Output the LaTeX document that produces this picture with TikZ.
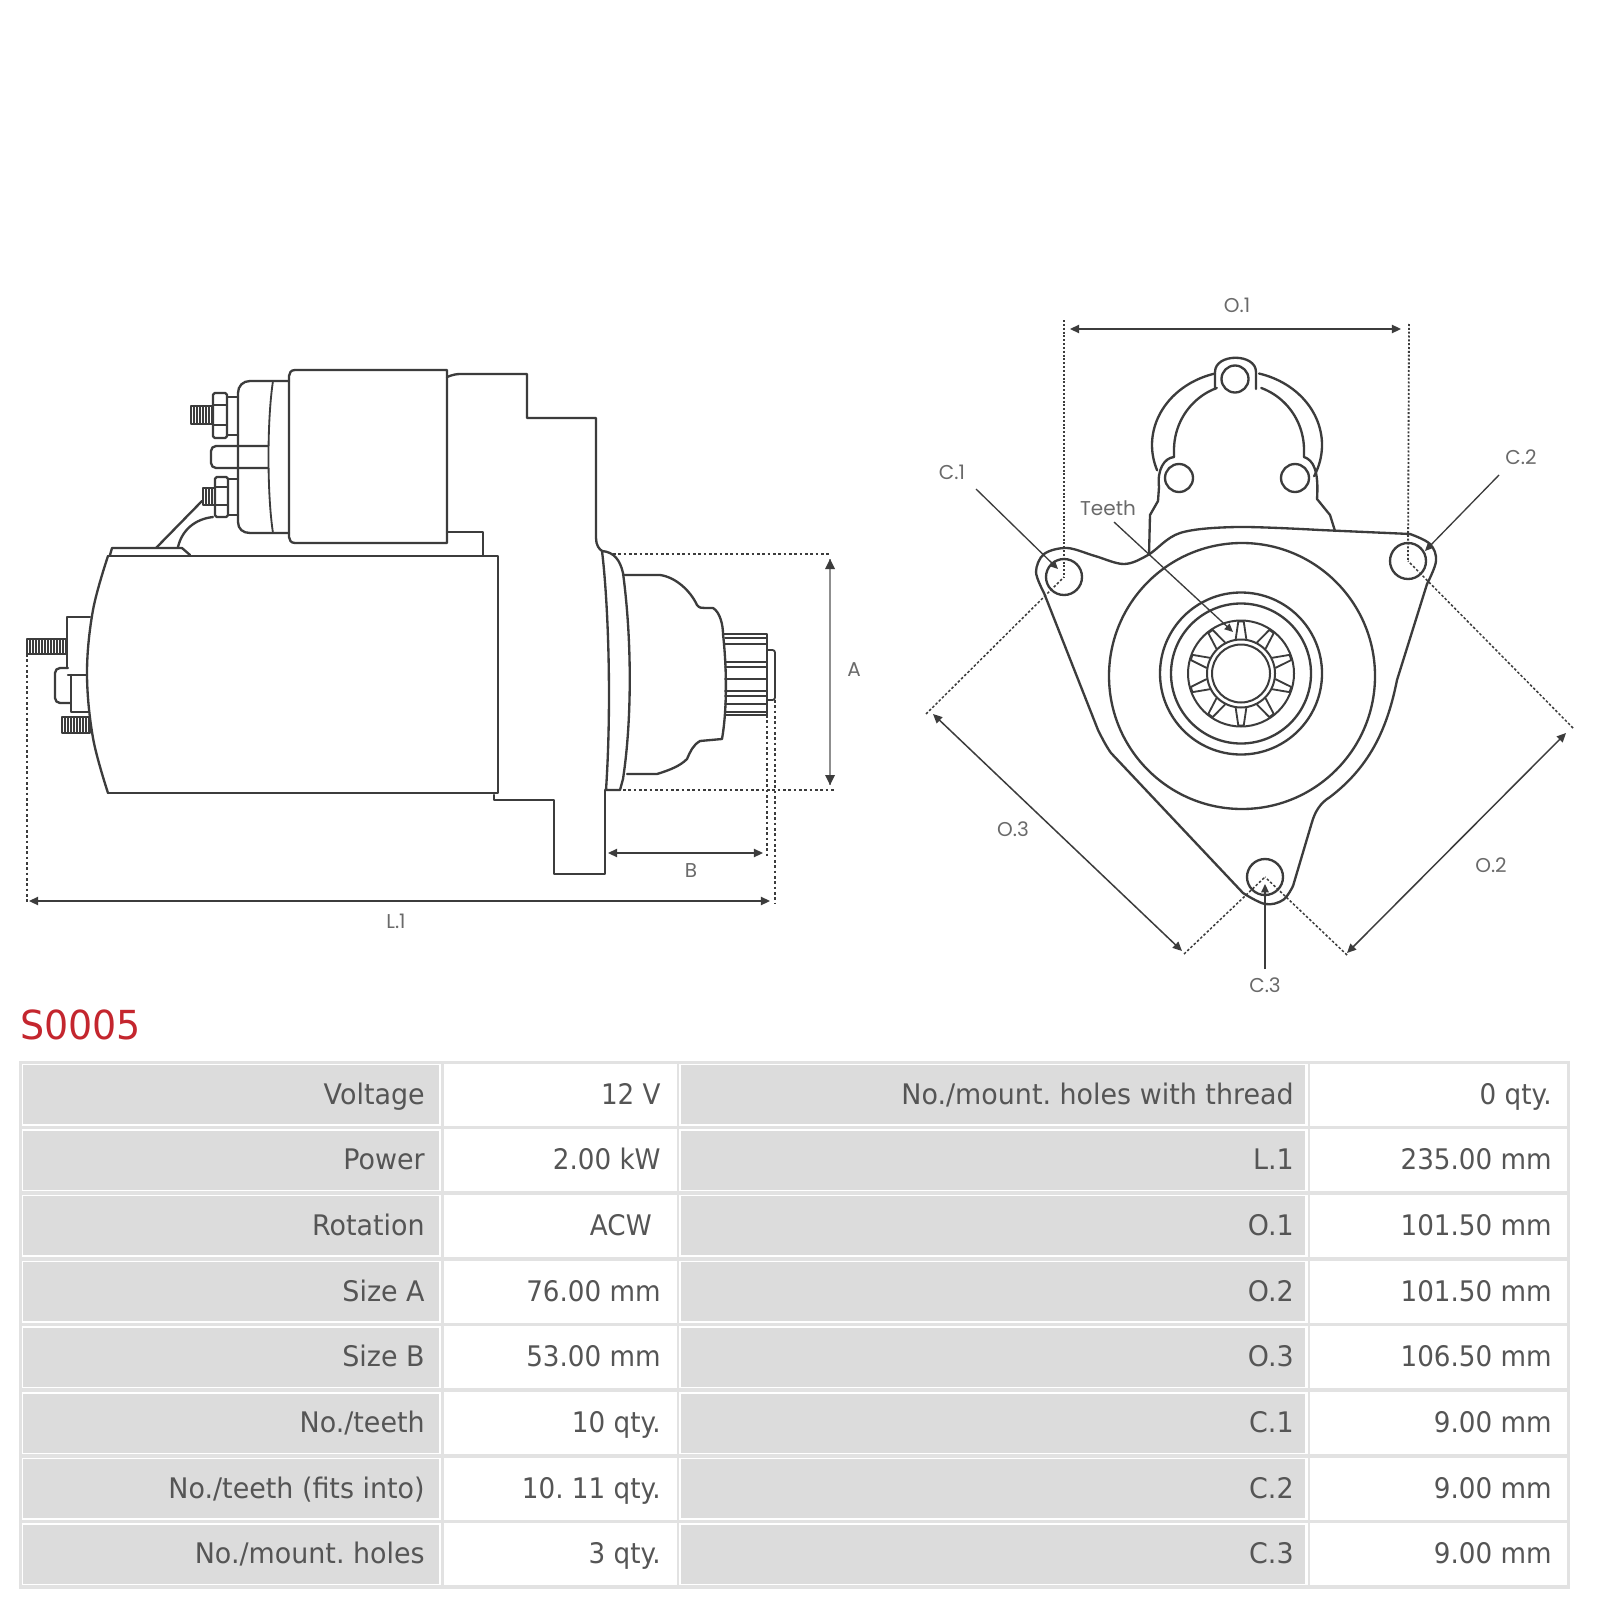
\documentclass[tikz,border=0pt]{standalone}
\usepackage{fontspec}
\usetikzlibrary{arrows.meta}
\newfontfamily\tablefont[FakeStretch=0.95]{DejaVu Sans}
\newfontfamily\valuefont[FakeStretch=0.925]{DejaVu Sans}
\newfontfamily\dimfont{Poppins}
\frenchspacing
\definecolor{ink}{HTML}{3C3C3C}
\definecolor{dimc}{HTML}{6A6A6A}
\definecolor{txt}{HTML}{555555}
\definecolor{cellg}{HTML}{DCDCDC}
\definecolor{frameg}{HTML}{E2E2E2}
\definecolor{red1}{HTML}{C4262E}
\tikzset{
  part/.style={draw=ink,line width=1.4pt,line join=round,line cap=round},
  thin part/.style={draw=ink,line width=1.1pt,line join=round,line cap=round},
  dotline/.style={draw=ink,line width=1.1pt,dash pattern=on 1.6pt off 1.6pt},
  dotvert/.style={draw=ink,line width=1.1pt,dash pattern=on 1.2pt off 1.1pt},
  dotfine/.style={draw=ink,line width=0.9pt,dash pattern=on 1.5pt off 1.2pt},
  dimarrow/.style={draw=ink,line width=0.9pt,{Triangle[length=5.5pt,width=5pt]}-{Triangle[length=5.5pt,width=5pt]}},
  leader/.style={draw=ink,line width=0.8pt,-{Triangle[length=5pt,width=4.5pt]}},
  dimlabel/.style={font=\dimfont\fontsize{12}{12}\selectfont,text=dimc,inner sep=0pt},
  celltext/.style={font=\tablefont\fontsize{17}{17}\selectfont,text=txt,inner sep=0pt,anchor=base east},
  valuetext/.style={font=\valuefont\fontsize{17}{17}\selectfont,text=txt,inner sep=0pt,anchor=base east},
}
\newcommand{\thread}[4]{% x1 y1 x2 y2
  \draw[part,line width=1pt] (#1,#2) rectangle (#3,#4);
  \pgfmathsetmacro{\xs}{#1+3}
  \pgfmathsetmacro{\xn}{#1+6}
  \foreach \tx in {\xs,\xn,...,#3} \draw[ink,line width=1pt] (\tx,#2) -- (\tx,#4);
}
\begin{document}
\begin{tikzpicture}[x=0.6pt,y=-0.6pt]
\useasboundingbox (0,0) rectangle (1600,1600);
\fill[white] (0,0) rectangle (1600,1600);

% ---------- side view ----------
% solenoid
\draw[part] (289,381) -- (250,381) .. controls (243,381) and (238,386) .. (238,393) -- (238,522)
  .. controls (238,529) and (243,533) .. (250,533) -- (289,533);
\draw[part,line width=1.1pt] (273,381) .. controls (267,420) and (267,494) .. (273,533);
\draw[part] (295,370) -- (447,370) -- (447,543) -- (295,543)
  .. controls (291,543) and (289,540) .. (289,537) -- (289,376) .. controls (289,373) and (291,370) .. (295,370);
% upper terminal
\draw[part] (238,397) -- (227,397) -- (227,435) -- (238,435);
\draw[part,rounded corners=1pt] (213,393) rectangle (227,438);
\draw[thin part] (213,405) -- (227,405) (213,425) -- (227,425);
\thread{191}{406}{213}{424}
% middle bar
\draw[part,rounded corners=3pt] (268,446) -- (211,446) -- (211,468) -- (268,468);
% lower terminal
\draw[part] (238,479) -- (228,479) -- (228,515) -- (238,515);
\draw[part,rounded corners=1pt] (215,477) rectangle (228,517);
\draw[thin part] (215,487) -- (228,487) (215,505) -- (228,505);
\thread{203}{488}{215}{505}
% wire
\draw[part] (202,501) -- (156,548);
\draw[part] (213,517) .. controls (195,519) and (182,530) .. (178,547);
\draw[part] (110,555) -- (112,548) -- (182,548) -- (190,555);
% spacer under the solenoid
\draw[part] (447,532) -- (483,532) -- (483,555);
% motor
\draw[part] (108,556) -- (498,556) -- (498,793) -- (108,793);
\draw[part] plot[smooth,tension=.6] coordinates {(108,556) (93,610) (87,673) (93,738) (108,793)};
% rear plate
\draw[part] (90,617) -- (67,617) -- (67,668);
\draw[part] (68,675) -- (87,675);
\draw[part] (71,675) -- (71,712) -- (88,712);
\draw[part,rounded corners=3pt] (68,668) -- (55,668) -- (55,703) -- (70,703);
\thread{27}{639}{67}{654}
\thread{62}{717}{90}{733}
% drive housing
\draw[part] (447,377) .. controls (452,375) and (456,374) .. (460,374) -- (527,374) -- (527,418) -- (596,418)
  -- (596,538) .. controls (596,545) and (599,549) .. (602,551);
\draw[part] (494,795) -- (494,800) -- (554,800) -- (554,874) -- (605,874) -- (605,790);
% flange
\draw[part] (602,551) .. controls (608,600) and (612,700) .. (606,790) -- (620,790) -- (623,779)
  .. controls (632,720) and (632,640) .. (623,573) .. controls (620,560) and (614,552) .. (602,551);
% nose
\draw[part] (623,575) -- (660,575) .. controls (675,577) and (690,590) .. (697,605)
  .. controls (699,608) and (702,608) .. (705,608) -- (713,608) .. controls (720,612) and (723,625) .. (723,634)
  .. controls (727,670) and (727,710) .. (722,739) -- (700,741) .. controls (693,745) and (690,752) .. (687,759)
  .. controls (680,766) and (670,770) .. (657,774) -- (627,774);
% pinion
\draw[part] (723,634) -- (767,634) -- (767,715) -- (725,715);
\foreach \py in {638,644,662,667,679,691,696,704,712}
  \draw[thin part] (725,\py) -- (767,\py);
\draw[part,line width=1.1pt,rounded corners=1.5pt] (768,650) -- (775,650) -- (775,700) -- (768,700);
% dimension end points
\coordinate (aTop) at (830,559); \coordinate (aBot) at (830,785);
\coordinate (aT1) at (613,554); \coordinate (aT2) at (830,554);
\coordinate (aB1) at (623,790); \coordinate (aB2) at (835,790);
\coordinate (bL) at (608,853); \coordinate (bR) at (763,853);
\coordinate (lL) at (29,901); \coordinate (lR) at (770,901);
\draw[dotline] (aT1) -- (aT2);
\draw[dotline] (aB1) -- (aB2);
\draw[dotline] (767,715) -- (767,856);
\draw[dotline] (775,700) -- (775,904);
\draw[dotline] (27,654) -- (27,904);
\draw[draw=dimc!75,line width=1.7pt] (aTop) -- (aBot);
\fill[ink] (aTop) ++(-5,10) -- ++(5,-10) -- ++(5,10) -- cycle;
\fill[ink] (aBot) ++(-5,-10) -- ++(5,10) -- ++(5,-10) -- cycle;
\draw[dimarrow] (bL) -- (bR);
\draw[dimarrow] (lL) -- (lR);
\node[dimlabel] (labA) at (854,670) {A};
\node[dimlabel] (labB) at (691,871) {B};
\node[dimlabel] (labL) at (396,921) {L.1};

% ---------- front view ----------
\coordinate (h1) at (1064,577);
\coordinate (h2) at (1408,561);
\coordinate (h3) at (1265,877);
\coordinate (hub) at (1241,673.5);
% plate
\draw[part] plot[smooth,tension=.55] coordinates {(1044,593) (1036,572) (1044,554) (1067,548) (1095,556) (1124,564) (1148,555) (1180,533) (1237,527) (1320,530)};
\draw[part] (1320,530) -- (1410,534);
\draw[part] plot[smooth,tension=.6] coordinates {(1410,534) (1430,544) (1436,561) (1427,584)};
\draw[part] (1427,584) -- (1397,680) .. controls (1388,725) and (1372,765) .. (1330,797)
  .. controls (1320,803) and (1315,812) .. (1312,822) -- (1293,886);
\draw[part] plot[smooth,tension=.6] coordinates {(1293,886) (1283,900) (1265,904) (1243,893)};
\draw[part] (1243,893) -- (1111,753) .. controls (1106,746) and (1102,738) .. (1098,730) -- (1044,593);
% holes
\draw[part] (h1) circle [radius=18];
\draw[part] (h2) circle [radius=18];
\draw[part] (h3) circle [radius=18];
\draw[part] (1235,379) circle [radius=13.5];
\draw[part] (1179,478) circle [radius=14];
\draw[part] (1295,478) circle [radius=14];
% bracket
\draw[part] (1215,389) -- (1215,372) .. controls (1215,353) and (1256,353) .. (1256,372) -- (1256,389);
\draw[part] plot[domain=105:200,samples=40] ({1237+85*cos(\x)},{445-74*sin(\x)});
\draw[part] plot[domain=75:-25,samples=40] ({1237+85*cos(\x)},{445-74*sin(\x)});
\draw[part] plot[domain=110:180,samples=30] ({1239+65*cos(\x)},{450-66*sin(\x)}) -- (1174,457);
\draw[part] plot[domain=70:0,samples=30] ({1239+65*cos(\x)},{450-66*sin(\x)}) -- (1304,457);
\draw[part] (1174,457) .. controls (1164,458) and (1157,470) .. (1159,487) -- (1158,501) -- (1150,515) -- (1149,555);
\draw[part] (1304,457) .. controls (1313,460) and (1319,470) .. (1317,499) -- (1330,515) -- (1335,531);
% concentric parts
\draw[part] (1242,676) circle [radius=133];
\draw[part] (hub) circle [radius=81];
\draw[part] (hub) circle [radius=70];
\draw[part,line width=1.2pt] (hub) circle [radius=53];
\draw[part,line width=1.2pt] (hub) circle [radius=34];
\draw[part,line width=1.2pt] (hub) circle [radius=29];
\foreach \t in {90,126,162,198,234,270,306,342,378,414}
  \draw[thin part,shift={(hub)}] (\t-8.7:35) -- (\t-3:52) -- (\t+3:52) -- (\t+8.7:35);
% dimensions
\coordinate (o1L) at (1070,329); \coordinate (o1R) at (1401,329);
\coordinate (o3A) at (933,714); \coordinate (o3B) at (1182,951);
\coordinate (o2A) at (1347,953); \coordinate (o2B) at (1566,733);
\coordinate (c3A) at (1265,969); \coordinate (c3B) at (1265,884);
\coordinate (c1A) at (976,489); \coordinate (c1B) at (1058,569);
\coordinate (c2A) at (1499,475); \coordinate (c2B) at (1425,551);
\coordinate (tA) at (1114,522); \coordinate (tB) at (1233,632);
\draw[dotvert] (1064,320) -- (h1);
\draw[dotvert] (1409,324) -- (h2);
\draw[dotfine] (926,714) -- (h1);
\draw[dotfine] (1184,954) -- (h3);
\draw[dotfine] (1347,955) -- (h3);
\draw[dotfine] (1573,728) -- (h2);
\draw[dimarrow] (o1L) -- (o1R);
\draw[dimarrow] (o3A) -- (o3B);
\draw[dimarrow] (o2A) -- (o2B);
\draw[leader] (c3A) -- (c3B);
\draw[leader] (c1A) -- (c1B);
\draw[leader] (c2A) -- (c2B);
\draw[leader] (tA) -- (tB);
\node[dimlabel] (labO1) at (1237,305) {O.1};
\node[dimlabel] (labO2) at (1491,865) {O.2};
\node[dimlabel] (labO3) at (1013,829) {O.3};
\node[dimlabel] (labC1) at (952,472) {C.1};
\node[dimlabel] (labC2) at (1521,457) {C.2};
\node[dimlabel] (labC3) at (1265,985) {C.3};
\node[dimlabel] (labT) at (1108,508) {Teeth};

% ---------- title ----------
\node[font=\tablefont\fontsize{24}{24}\selectfont,text=red1,inner sep=0pt,anchor=base west] (title) at (20,1039) {S0005};

% ---------- table ----------
\fill[frameg] (19,1061) rectangle (1570,1589);
\foreach \i/\la/\va/\lb/\vb in {
  0/Voltage/12 V/{No./mount. holes with thread}/0 qty.,
  1/Power/2.00 kW/L.1/235.00 mm,
  2/Rotation/{ACW\kern5.4pt}/O.1/101.50 mm,
  3/Size A/76.00 mm/O.2/101.50 mm,
  4/Size B/53.00 mm/O.3/106.50 mm,
  5/{No./teeth}/10 qty./C.1/9.00 mm,
  6/{No./teeth (fits into)}/10. 11 qty./C.2/9.00 mm,
  7/{No./mount. holes}/3 qty./C.3/9.00 mm}{
  \pgfmathsetmacro{\yt}{1065+65.7*\i}
  \pgfmathsetmacro{\yb}{\yt+59}
  \pgfmathsetmacro{\ytw}{\yt-1.5}
  \pgfmathsetmacro{\ybw}{\yb+1.5}
  \pgfmathsetmacro{\yl}{\yt+39}
  \fill[white] (21.5,\ytw) rectangle (441,\ybw);
  \fill[white] (444,\ytw) rectangle (676.5,\ybw);
  \fill[white] (679,\ytw) rectangle (1307.5,\ybw);
  \fill[white] (1310,\ytw) rectangle (1566.5,\ybw);
  \fill[cellg] (23,\yt) rectangle (439,\yb);
  \fill[cellg] (681,\yt) rectangle (1305,\yb);
  \node[celltext] (la\i) at (425,\yl) {\la};
  \node[valuetext] (va\i) at (661,\yl) {\va};
  \node[celltext] (lb\i) at (1294,\yl) {\lb};
  \node[valuetext] (vb\i) at (1552,\yl) {\vb};
}
\end{tikzpicture}
\end{document}
